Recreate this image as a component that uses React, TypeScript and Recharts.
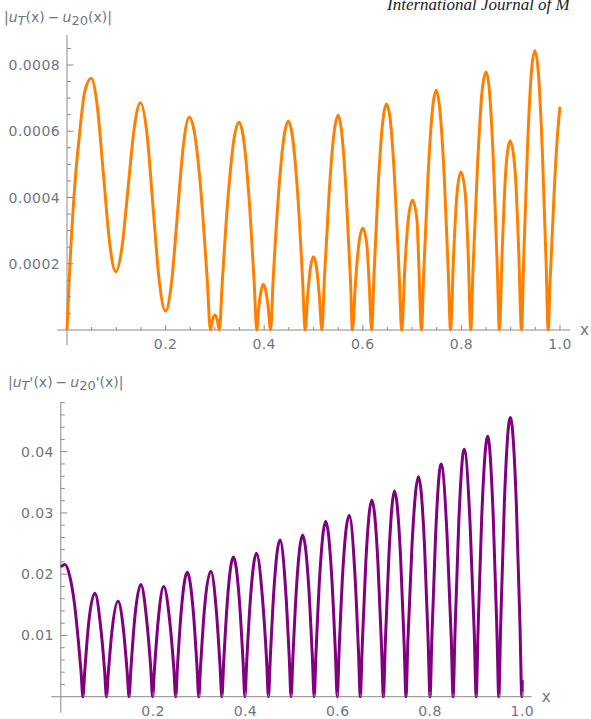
import { LineChart, Line, XAxis, YAxis, ReferenceLine, ReferenceDot } from 'recharts'

// |u_T(x) - u_20(x)|
const topX = [
  0, 0.006, 0.014, 0.026, 0.036, 0.049, 0.0615, 0.074, 0.0865, 0.099,
  0.1115, 0.124, 0.1365, 0.149, 0.162, 0.1745, 0.187, 0.2, 0.212, 0.224,
  0.236, 0.248, 0.2588, 0.2717, 0.2845, 0.291, 0.295, 0.3, 0.305, 0.309,
  0.315, 0.327, 0.339, 0.349, 0.358, 0.3688, 0.3796, 0.385, 0.389, 0.394,
  0.398, 0.403, 0.408, 0.413, 0.418, 0.429, 0.44, 0.449, 0.4575, 0.468,
  0.478, 0.483, 0.488, 0.494, 0.5, 0.506, 0.512, 0.517, 0.522, 0.532,
  0.542, 0.55, 0.557, 0.566, 0.575, 0.579, 0.585, 0.592, 0.6, 0.608,
  0.613, 0.618, 0.6225, 0.6315, 0.6405, 0.648, 0.656, 0.665, 0.674, 0.679,
  0.685, 0.692, 0.701, 0.71, 0.714, 0.719, 0.7235, 0.7325, 0.7415, 0.749,
  0.756, 0.765, 0.7735, 0.778, 0.784, 0.791, 0.799, 0.808, 0.814, 0.819,
  0.8235, 0.833, 0.842, 0.85, 0.857, 0.865, 0.873, 0.877, 0.883, 0.89,
  0.899, 0.909, 0.916, 0.922, 0.926, 0.934, 0.942, 0.949, 0.956, 0.964,
  0.972, 0.976, 0.98, 0.988, 0.994, 1.0,
]
const topY = [
  0, 0.0002, 0.0004, 0.0006, 0.00072, 0.00076, 0.000674, 0.000468, 0.000262, 0.000176,
  0.00025, 0.000431, 0.000611, 0.000686, 0.000595, 0.000372, 0.00015, 0.000057, 0.000143, 0.00035,
  0.000557, 0.000642, 0.000593, 0.000417, 0.00015, 0, 0.00003, 0.000045, 0.00003, 0,
  0.000146, 0.000407, 0.000579, 0.000627, 0.000579, 0.000407, 0.000146, 0, 0.00007, 0.00012,
  0.000138, 0.00012, 0.00007, 0, 0.000147, 0.000409, 0.000582, 0.00063, 0.000582, 0.000409,
  0.000147, 0, 0.0001, 0.00019, 0.000221, 0.00019, 0.0001, 0, 0.000151, 0.000421,
  0.000599, 0.000648, 0.000599, 0.000421, 0.000151, 0, 0.00014, 0.00026, 0.000307, 0.00026,
  0.00014, 0, 0.000159, 0.000443, 0.00063, 0.000682, 0.00063, 0.000443, 0.000159, 0,
  0.00018, 0.00033, 0.000392, 0.00033, 0.00018, 0, 0.000169, 0.00047, 0.000669, 0.000724,
  0.000669, 0.00047, 0.000169, 0, 0.00022, 0.00041, 0.000477, 0.00041, 0.00022, 0,
  0.000181, 0.000506, 0.00072, 0.000779, 0.00072, 0.000506, 0.000181, 0, 0.00025, 0.00048,
  0.000571, 0.00048, 0.00025, 0, 0.000196, 0.000547, 0.000779, 0.000843, 0.000779, 0.000547,
  0.000196, 0, 0.00015, 0.00041, 0.00057, 0.000674,
]

// |u_T'(x) - u_20'(x)|
const bottomX = [
  0, 0.009, 0.02, 0.03, 0.04, 0.044, 0.048,
  0.052, 0.06, 0.074, 0.086, 0.095, 0.099,
  0.103, 0.111, 0.124, 0.136, 0.144, 0.148,
  0.152, 0.16, 0.1735, 0.186, 0.195, 0.199,
  0.203, 0.211, 0.223, 0.236, 0.245, 0.249,
  0.253, 0.261, 0.274, 0.287, 0.295, 0.299,
  0.303, 0.311, 0.325, 0.337, 0.345, 0.349,
  0.353, 0.361, 0.374, 0.387, 0.395, 0.399,
  0.403, 0.411, 0.424, 0.437, 0.446, 0.45,
  0.454, 0.462, 0.475, 0.487, 0.495, 0.499,
  0.503, 0.511, 0.524, 0.537, 0.545, 0.549,
  0.553, 0.561, 0.574, 0.587, 0.595, 0.599,
  0.603, 0.611, 0.625, 0.637, 0.645, 0.649,
  0.653, 0.661, 0.674, 0.687, 0.695, 0.699,
  0.703, 0.711, 0.723, 0.736, 0.744, 0.748,
  0.752, 0.761, 0.775, 0.788, 0.796, 0.8,
  0.804, 0.812, 0.824, 0.837, 0.846, 0.85,
  0.854, 0.862, 0.874, 0.887, 0.896, 0.9,
  0.904, 0.912, 0.925, 0.937, 0.945, 0.949,
  0.953, 0.961, 0.974, 0.987, 0.995, 0.999,
  1.0,
]
const bottomY = [
  0.0212, 0.0216, 0.0195, 0.015, 0.0075, 0.004, 0,
  0.0042, 0.0117, 0.0169, 0.0117, 0.0042, 0,
  0.0039, 0.0108, 0.0156, 0.0108, 0.0039, 0,
  0.0046, 0.0126, 0.0183, 0.0126, 0.0046, 0,
  0.0045, 0.0124, 0.018, 0.0124, 0.0045, 0,
  0.0051, 0.014, 0.0203, 0.014, 0.0051, 0,
  0.0051, 0.0141, 0.0205, 0.0141, 0.0051, 0,
  0.0057, 0.0157, 0.0228, 0.0157, 0.0057, 0,
  0.0059, 0.0161, 0.0234, 0.0161, 0.0059, 0,
  0.0064, 0.0177, 0.0256, 0.0177, 0.0064, 0,
  0.0066, 0.0182, 0.0264, 0.0182, 0.0066, 0,
  0.0072, 0.0197, 0.0286, 0.0197, 0.0072, 0,
  0.0074, 0.0204, 0.0296, 0.0204, 0.0074, 0,
  0.008, 0.0221, 0.0321, 0.0221, 0.008, 0,
  0.0084, 0.0232, 0.0336, 0.0232, 0.0084, 0,
  0.009, 0.0248, 0.0359, 0.0248, 0.009, 0,
  0.0095, 0.0262, 0.038, 0.0262, 0.0095, 0,
  0.0101, 0.0279, 0.0404, 0.0279, 0.0101, 0,
  0.0106, 0.0293, 0.0425, 0.0293, 0.0106, 0,
  0.0114, 0.0315, 0.0456, 0.0315, 0.0114, 0,
  0.0027,
]

// ticks
const xMajor = [0.2, 0.4, 0.6, 0.8, 1.0]
const xMajorLabels = ['0.2', '0.4', '0.6', '0.8', '1.0']
const xMinor = [0.05, 0.1, 0.15, 0.25, 0.3, 0.35, 0.45, 0.5, 0.55, 0.65, 0.7, 0.75, 0.85, 0.9, 0.95]

const topYMajor = [0.0002, 0.0004, 0.0006, 0.0008]
const topYMajorLabels = ['0.0002', '0.0004', '0.0006', '0.0008']
const topYMinor = [
  0.00005, 0.0001, 0.00015, 0.00025, 0.0003, 0.00035, 0.00045,
  0.0005, 0.00055, 0.00065, 0.0007, 0.00075, 0.00085,
]

const bottomYMajor = [0.01, 0.02, 0.03, 0.04]
const bottomYMajorLabels = ['0.01', '0.02', '0.03', '0.04']
const bottomYMinor = [
  0.002, 0.004, 0.006, 0.008, 0.012, 0.014, 0.016, 0.018, 0.022, 0.024,
  0.026, 0.028, 0.032, 0.034, 0.036, 0.038, 0.042, 0.044, 0.046, 0.048,
]

const AXIS = '#8a8a8a'
const LABEL = '#6e7680'
const FONT = '"DejaVu Sans", sans-serif'

const xTickShape = (len: number, label?: string) => (p: any) => (
  <g>
    <line x1={p.cx} y1={p.cy} x2={p.cx} y2={p.cy - len} stroke={AXIS} strokeWidth={1} />
    {label ? (
      <text
        x={p.cx}
        y={p.cy + 19}
        textAnchor="middle"
        fill={LABEL}
        fontSize={14}
        letterSpacing={0.4}
        fontFamily={FONT}
      >
        {label}
      </text>
    ) : null}
  </g>
)

const yTickShape = (len: number, label?: string) => (p: any) => (
  <g>
    <line x1={p.cx} y1={p.cy} x2={p.cx + len} y2={p.cy} stroke={AXIS} strokeWidth={1} />
    {label ? (
      <text
        x={p.cx - 7}
        y={p.cy + 5}
        textAnchor="end"
        fill={LABEL}
        fontSize={14}
        letterSpacing={0.4}
        fontFamily={FONT}
      >
        {label}
      </text>
    ) : null}
  </g>
)

interface PanelProps {
  xs: number[]
  ys: number[]
  color: string
  height: number
  margin: { top: number; right: number; bottom: number; left: number }
  yDomain: [number, number]
  yMajor: number[]
  yMajorLabels: string[]
  yMinor: number[]
}

function Panel({ xs, ys, color, height, margin, yDomain, yMajor, yMajorLabels, yMinor }: PanelProps) {
  const data = xs.map((x, i) => ({ x, y: ys[i] }))
  return (
    <LineChart width={591} height={height} data={data} margin={margin}>
      <XAxis dataKey="x" type="number" domain={[-0.0203, 1.0203]} hide />
      <YAxis type="number" domain={yDomain} hide />
      <ReferenceLine
        y={0}
        stroke={AXIS}
        strokeWidth={1}
        label={{ value: 'x', position: 'right', offset: 10, fill: LABEL, fontSize: 15, fontFamily: FONT }}
      />
      <ReferenceLine x={0} stroke={AXIS} strokeWidth={1} />
      {xMinor.map((t) => (
        <ReferenceDot key={`xm${t}`} x={t} y={0} r={0} ifOverflow="visible" shape={xTickShape(3)} />
      ))}
      {xMajor.map((t, i) => (
        <ReferenceDot key={`xM${t}`} x={t} y={0} r={0} ifOverflow="visible" shape={xTickShape(5, xMajorLabels[i])} />
      ))}
      {yMinor.map((t) => (
        <ReferenceDot key={`ym${t}`} x={0} y={t} r={0} ifOverflow="visible" shape={yTickShape(4)} />
      ))}
      {yMajor.map((t, i) => (
        <ReferenceDot key={`yM${t}`} x={0} y={t} r={0} ifOverflow="visible" shape={yTickShape(6.5, yMajorLabels[i])} />
      ))}
      <Line
        type="monotone"
        dataKey="y"
        stroke={color}
        strokeWidth={3}
        strokeLinejoin="round"
        dot={false}
        isAnimationActive={false}
      />
    </LineChart>
  )
}

const titleStyle = {
  position: 'absolute' as const,
  fontFamily: FONT,
  fontSize: 14,
  lineHeight: '14px',
  color: LABEL,
  whiteSpace: 'nowrap' as const,
}
const sub = { fontSize: 13, position: 'relative' as const, top: 3 }
const minus = { margin: '0 3px' }

export default function App() {
  return (
    <div
      style={{
        position: 'absolute',
        left: 0,
        top: 0,
        width: 591,
        height: 719,
        overflow: 'hidden',
        background: '#fff',
      }}
    >
      <div
        style={{
          position: 'absolute',
          left: 387,
          top: -4,
          fontFamily: '"Liberation Serif", serif',
          fontStyle: 'italic',
          fontSize: 17,
          lineHeight: '17px',
          color: '#222',
          whiteSpace: 'nowrap',
        }}
      >
        International Journal of M
      </div>

      <div style={{ ...titleStyle, left: 4, top: 10 }}>
        |<i>u</i>
        <i style={sub}>T</i>(x)<span style={minus}>−</span>
        <i>u</i>
        <span style={sub}>20</span>(x)|
      </div>
      <div style={{ position: 'absolute', left: 0, top: 0 }}>
        <Panel
          xs={topX}
          ys={topY}
          color="#ff8000"
          height={360}
          margin={{ top: 35, right: 21, bottom: 15, left: 57 }}
          yDomain={[-0.0000453, 0.0008906]}
          yMajor={topYMajor}
          yMajorLabels={topYMajorLabels}
          yMinor={topYMinor}
        />
      </div>

      <div style={{ ...titleStyle, left: 8, top: 375 }}>
        |<i>u</i>
        <i style={sub}>T</i>'(x)<span style={minus}>−</span>
        <i>u</i>
        <span style={sub}>20</span>'(x)|
      </div>
      <div style={{ position: 'absolute', left: 0, top: 370 }}>
        <Panel
          xs={bottomX}
          ys={bottomY}
          color="#800080"
          height={349}
          margin={{ top: 31.7, right: 59.3, bottom: 6.3, left: 51.4 }}
          yDomain={[-0.00261, 0.04816]}
          yMajor={bottomYMajor}
          yMajorLabels={bottomYMajorLabels}
          yMinor={bottomYMinor}
        />
      </div>
    </div>
  )
}
